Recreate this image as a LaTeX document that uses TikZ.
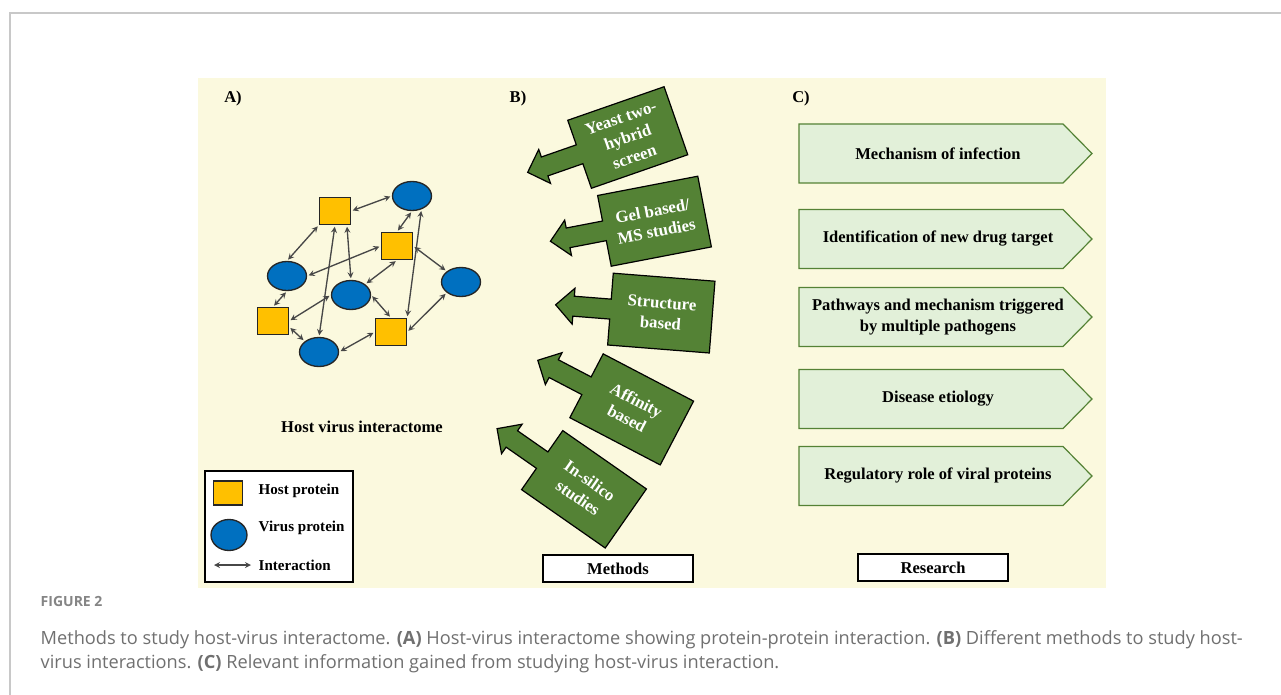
\documentclass[tikz,border=0pt]{standalone}
\usepackage{fontspec}
\setmainfont{Liberation Serif}
\newfontfamily\capfont{Open Sans}
\usepackage{xcolor}
\usetikzlibrary{shapes.geometric}
\definecolor{panel}{RGB}{251,249,222}
\definecolor{hostcol}{RGB}{255,192,0}
\definecolor{viruscol}{RGB}{0,112,192}
\definecolor{methodcol}{RGB}{84,130,53}
\definecolor{resfill}{RGB}{226,240,217}
\definecolor{capgray}{RGB}{112,112,112}
\definecolor{framegray}{RGB}{200,200,200}

\newcommand\methodarrow[5]{%
	\begin{scope}[shift={(#2,#3)},rotate=#4]
		\draw[method](-51,-36)--(51,-36)--(51,36)--(-51,36)--(-51,10)--(-88,10)--(-88,18)--(-106,0)--(-88,-18)--(-88,-10)--(-51,-10)--cycle;
		\node[methodtext,rotate=#4](#1) at(0,0){#5};
	\end{scope}}
\newcommand\researcharrow[3]{%
	\draw[research](799,#2-29.5)--(1063,#2-29.5)--(1092,#2)--(1063,#2+29.5)--(799,#2+29.5)--cycle;
	\node[restext](#1) at(938,#2){#3};}

\begin{document}
\begin{tikzpicture}[x=0.75pt,y=-0.75pt,
	host/.style={draw=black!85,line width=1pt,fill=hostcol,minimum width=23.25pt,minimum height=20.25pt,inner sep=0pt},
	virus/.style={ellipse,draw=black!85,line width=1pt,fill=viruscol,minimum width=29.25pt,minimum height=21.75pt,inner sep=0pt},
	inter/.style={stealth-stealth,draw=black!72,line width=1pt,shorten >=1.2pt,shorten <=1.2pt},
	method/.style={draw=black,line width=0.9pt,fill=methodcol},
	methodtext/.style={text=white,align=center,font=\fontsize{12.6}{15.5}\selectfont\bfseries},
	research/.style={draw=methodcol,line width=0.9pt,fill=resfill},
	restext/.style={align=center,font=\fontsize{12.4}{15.75}\selectfont\bfseries},
	boldtext/.style={font=\fontsize{12.4}{15}\selectfont\bfseries},
	legtext/.style={anchor=west,font=\fontsize{11.3}{13}\selectfont\bfseries},
	labelbox/.style={draw=black,line width=1pt,fill=white,minimum width=112.5pt,minimum height=20.25pt,inner sep=0pt,font=\fontsize{12.4}{15}\selectfont\bfseries},
	captext/.style={anchor=west,text=capgray,font=\capfont\fontsize{13.65}{15}\selectfont}]
		\useasboundingbox(0,0)rectangle(1281,695);
		\fill[white](0,0)rectangle(1281,695);
		\draw[framegray,line width=1.1pt](10,695)--(10,13)--(1281,13);
		\fill[panel](198,78)rectangle(1106,588);

		\node[boldtext](headA) at(233,99){A)};
		\node[boldtext](headB) at(518,99){B)};
		\node[boldtext](headC) at(801,99){C)};

		\node[host](h1) at(335,211){};
		\node[host](h2) at(397,246){};
		\node[host](h3) at(273,321){};
		\node[host](h4) at(391,332){};
		\node[virus](v1) at(412,196){};
		\node[virus](v2) at(287,276){};
		\node[virus](v3) at(351,295){};
		\node[virus](v4) at(461,282){};
		\node[virus](v5) at(319,352){};
		\draw[inter](h1.east)--(v1.west);
		\draw[inter](v1.south)--(h2.north);
		\draw[inter](v1.-55)--(h4.north east);
		\draw[inter](h1.south west)--(v2.north);
		\draw[inter](h1.south)--(v5.north);
		\draw[inter](h1.-50)--(v3.north);
		\draw[inter](h2.west)--(v2.east);
		\draw[inter](h2.south)--(v3.north east);
		\draw[inter](h2.east)--(v4.north west);
		\draw[inter](v2.south)--(h3.north);
		\draw[inter](h3.east)--(v3.west);
		\draw[inter](h3.-20)--(v5.north west);
		\draw[inter](v3.east)--(h4.north);
		\draw[inter](v5.east)--(h4.west);
		\draw[inter](h4.east)--(v4.south west);
		\node[boldtext](title) at(362,427){Host virus interactome};

		\node[draw=black,line width=1pt,fill=white,minimum width=111pt,minimum height=83.25pt,inner sep=0pt](legend) at(279,526.5){};
		\node[host,minimum width=21.75pt,minimum height=18pt](lhost) at(228,493){};
		\node[virus,minimum width=27pt,minimum height=23.25pt](lvirus) at(229,535){};
		\coordinate(la) at(214,565);
		\coordinate(lb) at(251,565);
		\draw[inter,shorten >=0pt,shorten <=0pt](la)--(lb);
		\node[legtext](lhosttext) at(254,491){Host protein};
		\node[legtext](lvirustext) at(254,528){Virus protein};
		\node[legtext](lintertext) at(254,565){Interaction};

		\methodarrow{yeast}{627.75}{137.5}{19.2}{Yeast two-\\hybrid\\screen}
		\methodarrow{gel}{654.5}{221.2}{10.9}{Gel based/\\MS studies}
		\methodarrow{structure}{661.3}{313.1}{-4.5}{Structure\\based}
		\methodarrow{affinity}{631.7}{409.4}{-27.6}{Affinity\\based}
		\methodarrow{insilico}{584}{489.3}{-34.9}{In-silico\\studies}
		\node[labelbox](methods) at(618,568.5){Methods};

		\researcharrow{infection}{153.5}{Mechanism of infection}
		\researcharrow{drug}{239}{Identification of new drug target}
		\researcharrow{pathways}{317}{Pathways and mechanism triggered\\by multiple pathogens}
		\researcharrow{etiology}{399}{Disease etiology}
		\researcharrow{regulatory}{476}{Regulatory role of viral proteins}
		\node[labelbox](research) at(933,567.5){Research};

		\node[captext,font=\capfont\fontsize{10.5}{12}\selectfont\bfseries,text=capgray!85](fig) at(36,601){FIGURE 2};
		\node[captext](cap1) at(36,640){Methods to study host-virus interactome. \textbf{(A)} Host-virus interactome showing protein-protein interaction. \textbf{(B)} Different methods to study host-};
		\node[captext](cap2) at(36,664){virus interactions. \textbf{(C)} Relevant information gained from studying host-virus interaction.};
		\end{tikzpicture}
\end{document}
